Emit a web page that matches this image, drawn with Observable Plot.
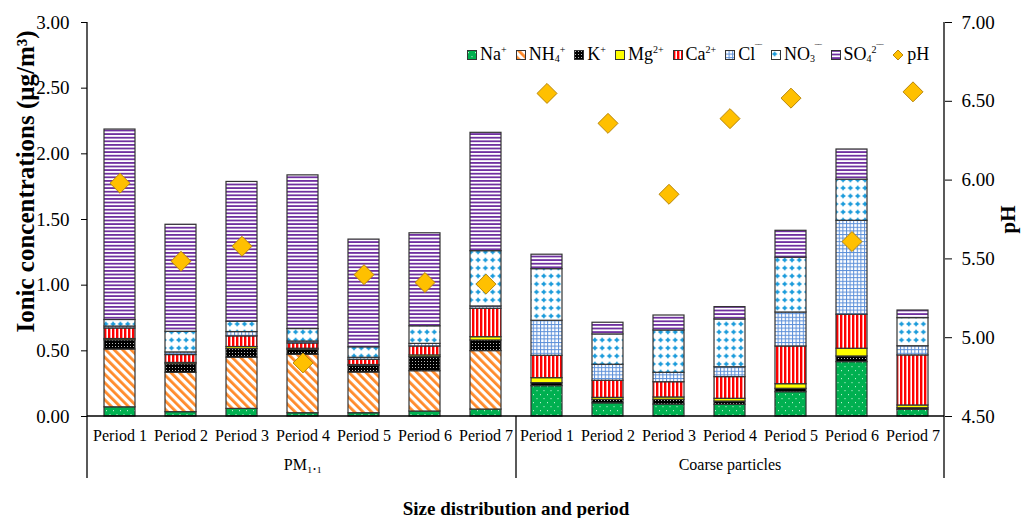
<!DOCTYPE html>
<html><head><meta charset="utf-8">
<script src="https://cdn.jsdelivr.net/npm/d3@7"></script>
<script src="https://cdn.jsdelivr.net/npm/@observablehq/plot@0.6"></script>
<style>
body{margin:0;background:#fff;font-family:"Liberation Serif","Times New Roman",serif;}
#wrap{position:relative;width:1027px;height:518px;}
#legend{position:absolute;left:467px;top:44px;display:flex;align-items:center;font-size:18px;color:#000;white-space:nowrap;}
.item{display:flex;align-items:center;margin-right:9px;}
.item svg{margin-right:3px;}
sup{font-size:10px;vertical-align:7px;}
sub{font-size:10px;vertical-align:-2px;}
</style></head><body>
<svg width="0" height="0" style="position:absolute"><defs>
<pattern id="pNa" width="7" height="8" patternUnits="userSpaceOnUse"><rect width="7" height="8" fill="#00B050"/><rect x="1" y="2" width="1" height="1.2" fill="#b9f0cd"/><rect x="4.5" y="6" width="1" height="1.2" fill="#b9f0cd"/></pattern>
<pattern id="pNH4" width="6" height="6" patternUnits="userSpaceOnUse" patternTransform="rotate(-45)"><rect width="6" height="6" fill="#fff"/><rect width="2.8" height="6" fill="#FF8A2A"/></pattern>
<pattern id="pK" width="3" height="3" patternUnits="userSpaceOnUse"><rect width="3" height="3" fill="#000"/><rect x="1" y="1" width="1" height="1" fill="#bbb"/></pattern>
<pattern id="pMg" width="4" height="4" patternUnits="userSpaceOnUse"><rect width="4" height="4" fill="#FFFF00"/></pattern>
<pattern id="pCa" width="4" height="4" patternUnits="userSpaceOnUse"><rect width="4" height="4" fill="#fff"/><rect width="2.4" height="4" fill="#FF0000"/></pattern>
<pattern id="pCl" width="3.6" height="3.6" patternUnits="userSpaceOnUse"><rect width="3.6" height="3.6" fill="#fff"/><rect width="3.6" height="1" fill="#5B8FD9"/><rect width="1" height="3.6" fill="#5B8FD9"/></pattern>
<pattern id="pNO3" width="7.3" height="8" patternUnits="userSpaceOnUse"><rect width="7.3" height="8" fill="#fff"/><circle cx="3.6" cy="4" r="1.8" fill="#1A9BDB"/><rect x="3" y="1.6" width="1.2" height="4.8" fill="#1A9BDB"/><rect x="1.2" y="3.4" width="4.8" height="1.2" fill="#1A9BDB"/></pattern>
<pattern id="pSO4" width="4" height="3.6" patternUnits="userSpaceOnUse"><rect width="4" height="3.6" fill="#fff"/><rect width="4" height="1.8" fill="#7030A0"/></pattern>
</defs></svg>
<div id="wrap"><div id="legend"></div></div>
<script>
// ---- data ----
const periods = ["Period 1","Period 2","Period 3","Period 4","Period 5","Period 6","Period 7"];
const groups = ["PM₁.₁","Coarse particles"];
const ions = ["Na","NH4","K","Mg","Ca","Cl","NO3","SO4"];
const ionLabels = ["Na<sup>+</sup>","NH<sub>4</sub><sup>+</sup>","K<sup>+</sup>","Mg<sup>2+</sup>","Ca<sup>2+</sup>","Cl<sup>‾‾</sup>","NO<sub>3</sub><sup>‾‾</sup>","SO<sub>4</sub><sup>2‾‾</sup>"];
const pHLabel = "pH";
// values: 7 PM1.1 periods then 7 coarse periods
const Na  = [0.070,0.033,0.058,0.025,0.025,0.038,0.053, 0.231,0.100,0.091,0.089,0.185,0.414,0.051];
const NH4 = [0.440,0.300,0.390,0.445,0.310,0.307,0.445, 0,0,0,0,0,0,0];
const K   = [0.070,0.065,0.066,0.038,0.050,0.107,0.081, 0.023,0.027,0.036,0.025,0.026,0.043,0.012];
const Mg  = [0.010,0.010,0.015,0.008,0.007,0.013,0.025, 0.038,0.015,0.018,0.021,0.035,0.059,0.021];
const Ca  = [0.080,0.060,0.081,0.040,0.040,0.068,0.216, 0.170,0.130,0.116,0.165,0.287,0.259,0.381];
const Cl  = [0.015,0.020,0.033,0.015,0.015,0.020,0.018, 0.267,0.122,0.072,0.075,0.259,0.715,0.070];
const NO3 = [0.050,0.157,0.079,0.095,0.080,0.134,0.421, 0.393,0.231,0.322,0.364,0.417,0.313,0.214];
const SO4 = [1.450,0.815,1.064,1.170,0.820,0.708,0.901, 0.110,0.089,0.114,0.094,0.205,0.230,0.058];
const pH  = [5.98,5.485,5.58,4.84,5.40,5.35,5.34, 6.55,6.36,5.91,6.39,6.52,5.61,6.56];
const yTicks = [0,0.5,1,1.5,2,2.5,3];
const pHTicks = [4.5,5,5.5,6,6.5,7];
const yTitle = "Ionic concentrations (μg/m³)";
const xTitle = "Size distribution and period";

// ---- build ----
const series = [Na,NH4,K,Mg,Ca,Cl,NO3,SO4];
const yMax = 3, pHMin = 4.5, pHMax = 7;
const toY = v => (v - pHMin) * yMax / (pHMax - pHMin);
const fromY = y => y * (pHMax - pHMin) / yMax + pHMin;
const keys = [];
groups.forEach(g => periods.forEach(p => keys.push(g + "|" + p)));
const rows = keys.map((k, j) => ({key: k, pH: pH[j]}));
const segs = [];
keys.forEach((k, j) => {
  let c = 0;
  series.forEach((s, i) => {
    if (s[j] > 0) segs.push({key: k, ion: ions[i], y1: c, y2: c + s[j]});
    c += s[j];
  });
});
const groupRows = groups.map(g => ({key: g + "|" + periods[3], label: g}));

const marks = ions.map(ion => Plot.barY(segs.filter(d => d.ion === ion), {
  x: "key", y1: "y1", y2: "y2", fill: `url(#p${ion})`, stroke: "#333", strokeWidth: 1.2
}));
marks.push(
  Plot.dot(rows, {x: "key", y: d => toY(d.pH), symbol: "diamond2", r: 9, fill: "#FFC000", stroke: "#B8860B", strokeWidth: 1}),
  Plot.axisY({anchor: "left", ticks: yTicks, tickFormat: d3.format(".2f"), tickSize: 6, tickPadding: 12, fontSize: 19, label: null}),
  Plot.axisY({anchor: "right", ticks: pHTicks.map(toY), tickFormat: v => fromY(v).toFixed(2), tickSize: 7, tickPadding: 10, fontSize: 19, label: null}),
  Plot.axisX({tickFormat: k => k.split("|")[1], tickSize: 0, tickPadding: 13, fontSize: 16, label: null}),
  Plot.text(groupRows, {x: "key", text: "label", frameAnchor: "bottom", dy: 53, fontSize: 16}),
  Plot.text([xTitle], {text: d => d, frameAnchor: "bottom", dy: 98, fontSize: 19, fontWeight: "bold"}),
  Plot.text([yTitle], {text: d => d, frameAnchor: "left", textAnchor: "middle", dx: -62, dy: -38, rotate: -90, fontSize: 25, fontWeight: "bold"}),
  Plot.text([pHLabel], {text: d => d, frameAnchor: "right", textAnchor: "middle", dx: 64, rotate: -90, fontSize: 21, fontWeight: "bold"})
);

const plot = Plot.plot({
  width: 1027, height: 518,
  marginTop: 22, marginRight: 83, marginBottom: 102, marginLeft: 87,
  style: {fontFamily: "'Liberation Serif','Times New Roman',serif", fontSize: "17px", color: "#000", background: "#fff"},
  x: {domain: keys, paddingInner: 0.5, paddingOuter: 0.25},
  y: {domain: [0, yMax]},
  marks
});
document.getElementById("wrap").prepend(plot);

// axis lines and group separators, from the plot's own scales
const xs = plot.scale("x"), ys = plot.scale("y");
const [x0, x1] = xs.range, [yb, yt] = ys.range;
const gap = (xs.step - xs.bandwidth) / 2;
const sepX = xs.apply(groups[1] + "|" + periods[0]) - gap;
const g = d3.select(plot).append("g").attr("stroke", "#000").attr("stroke-width", 1.3);
g.append("line").attr("x1", x0).attr("x2", x0).attr("y1", yt).attr("y2", yb + 62);
g.append("line").attr("x1", x1).attr("x2", x1).attr("y1", yt).attr("y2", yb + 62);
g.append("line").attr("x1", sepX).attr("x2", sepX).attr("y1", yb).attr("y2", yb + 62);
g.append("line").attr("x1", x0).attr("x2", x1).attr("y1", yb).attr("y2", yb);

// legend
const leg = document.getElementById("legend");
ions.forEach((ion, i) => {
  const it = document.createElement("div"); it.className = "item";
  it.innerHTML = `<svg width="10" height="10"><rect x="0.5" y="0.5" width="9" height="9" fill="url(#p${ion})" stroke="#333"/></svg><span>${ionLabels[i]}</span>`;
  leg.appendChild(it);
});
const it = document.createElement("div"); it.className = "item";
it.innerHTML = `<svg width="12" height="12"><path d="M6 1L11 6L6 11L1 6Z" fill="#FFC000" stroke="#B8860B"/></svg><span>${pHLabel}</span>`;
leg.appendChild(it);
</script>
</body></html>
